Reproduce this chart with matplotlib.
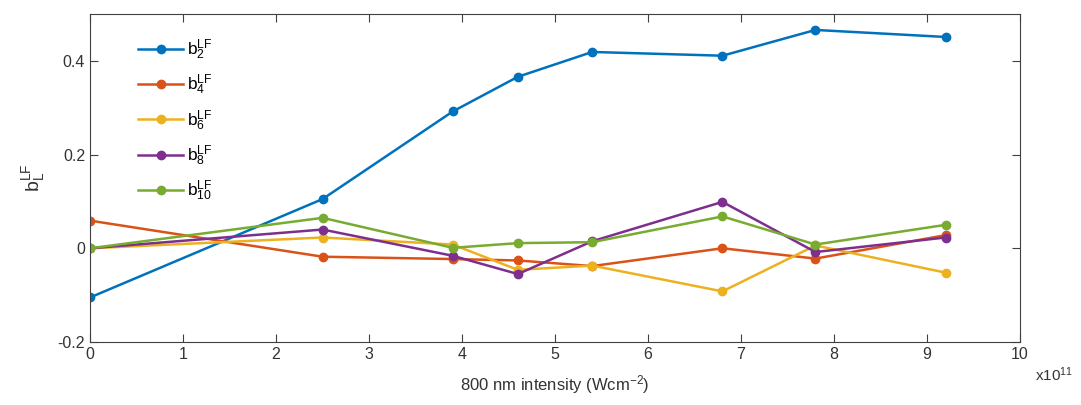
import numpy as np
import matplotlib
matplotlib.use('Agg')
import matplotlib.pyplot as plt

plt.rcParams['font.family'] = ['Liberation Sans', 'DejaVu Sans']
plt.rcParams['mathtext.default'] = 'regular'

# intensity in units of 1e11 W/cm^2
intensity = [0, 2.5, 3.9, 4.6, 5.4, 6.8, 7.8, 9.2]
b2 = [-0.105, 0.105, 0.292, 0.366, 0.419, 0.411, 0.466, 0.451]
b4 = [0.059, -0.018, -0.023, -0.026, -0.038, 0.0, -0.022, 0.028]
b6 = [0.0, 0.023, 0.008, -0.046, -0.037, -0.092, 0.006, -0.052]
b8 = [0.0, 0.040, -0.016, -0.055, 0.015, 0.099, -0.008, 0.023]
b10 = [0.0, 0.065, 0.001, 0.011, 0.013, 0.068, 0.008, 0.050]

series = [b2, b4, b6, b8, b10]
labels = ['b$_{2}^{LF}$', 'b$_{4}^{LF}$', 'b$_{6}^{LF}$', 'b$_{8}^{LF}$', 'b$_{10}^{LF}$']
colors = ['#0072BD', '#D95319', '#EDB120', '#7E2F8E', '#77AC30']

fig = plt.figure(figsize=(10.81, 4.05), dpi=100)
ax = fig.add_axes([0.0833, 0.1556, 0.8603, 0.8098])

for y, lab, c in zip(series, labels, colors):
    ax.plot(intensity, y, '-o', color=c, lw=1.8, ms=6, label=lab)

ax.set_xlim(0, 10)
ax.set_ylim(-0.2, 0.5)
ax.set_xticks(np.arange(0, 11, 1))
ax.set_yticks([-0.2, 0, 0.2, 0.4])
ax.set_yticklabels(['-0.2', '0', '0.2', '0.4'])
ax.tick_params(direction='in', top=True, right=True, length=6, labelsize=11.5,
               colors='#404040', labelcolor='#333333')
for s in ax.spines.values():
    s.set_color('#404040')
    s.set_linewidth(0.8)

ax.set_xlabel('800 nm intensity (Wcm$^{-2}$)', fontsize=12, color='#333333', labelpad=8)
ax.set_ylabel('b$_{L}^{LF}$', fontsize=14, color='#333333', labelpad=8)
fig.text(0.9575, 0.06, 'x10$^{11}$', fontsize=11, color='#333333')

leg = ax.legend(loc='upper left', bbox_to_anchor=(0.035, 0.975), frameon=False,
                fontsize=12.5, handlelength=2.6, labelspacing=0.62, handletextpad=0.2)

fig.savefig('out.png', dpi=100)
